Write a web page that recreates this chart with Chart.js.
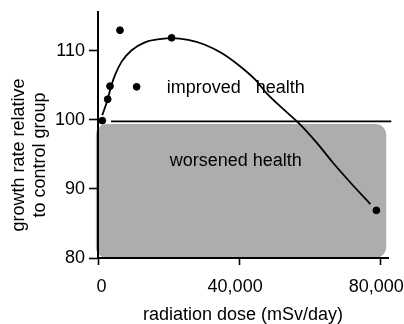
<!DOCTYPE html>
<html>
<head>
<meta charset="utf-8">
<script src="https://cdn.jsdelivr.net/npm/chart.js@4"></script>
<style>
  html, body { margin: 0; padding: 0; background: #ffffff; }
  #wrap { width: 404px; height: 324px; }
</style>
</head>
<body>
<div id="wrap"><canvas id="c" width="404" height="324"></canvas></div>
<script>
// Measured growth rate (% of control) at each dose rate (mSv/day)
const doseValues   = [1220, 2750, 3400, 6230, 10950, 20860, 78900];
const growthValues = [99.9, 103.0, 104.9, 113.0, 104.8, 111.9, 86.9];

// Fitted trend curve, sampled along its length
const fitDose   = [1220, 2750, 3680, 4810, 6710, 9540, 13300, 18030, 20860, 25560, 30290, 35020, 39720, 44440, 47760, 52460, 57180, 61910, 66610, 71340, 77200];
const fitGrowth = [100.7, 103.0, 104.8, 106.5, 108.45, 110.1, 111.25, 111.75, 111.85, 111.6, 110.9, 109.7, 108.0, 105.9, 103.9, 101.6, 99.4, 96.75, 93.8, 91.05, 87.8];

// Control level and the band of worsened health below it
const controlLine = [[3700, 99.8], [83140, 99.8]];
const worseBandX = [-600, 81700];
const worseBandY = [80, 99.4];

const xTicks = [0, 40000, 80000];
const yTicks = [80, 90, 100, 110];

const regionLabels = ['improved   health', 'worsened health'];
const regionLabelPos = [[39070, 103.95], [39070, 93.27]];

const FONT = "'Liberation Sans', Arial, sans-serif";
const yTitle = ['growth rate relative', 'to control group'];

function roundRect(ctx, x, y, w, h, r) {
  ctx.beginPath();
  ctx.moveTo(x + r, y);
  ctx.lineTo(x + w - r, y);
  ctx.arcTo(x + w, y, x + w, y + r, r);
  ctx.lineTo(x + w, y + h - r);
  ctx.arcTo(x + w, y + h, x + w - r, y + h, r);
  ctx.lineTo(x + r, y + h);
  ctx.arcTo(x, y + h, x, y + h - r, r);
  ctx.lineTo(x, y + r);
  ctx.arcTo(x, y, x + r, y, r);
  ctx.closePath();
}

const bandPlugin = {
  id: 'worseBand',
  beforeDraw(chart) {
    const {ctx, scales: {x, y}} = chart;
    const x0 = x.getPixelForValue(worseBandX[0]);
    const x1 = x.getPixelForValue(worseBandX[1]);
    const y0 = y.getPixelForValue(worseBandY[1]);
    const y1 = y.getPixelForValue(worseBandY[0]);
    ctx.save();
    ctx.fillStyle = '#adadad';
    roundRect(ctx, x0, y0, x1 - x0, y1 - y0, 11);
    ctx.fill();
    ctx.restore();
  },
  beforeDatasetsDraw(chart) {
    const {ctx, scales: {x, y}} = chart;
    ctx.save();
    ctx.fillStyle = '#000';
    ctx.font = '18px ' + FONT;
    ctx.textAlign = 'center';
    ctx.textBaseline = 'alphabetic';
    regionLabels.forEach((t, i) => {
      ctx.fillText(t, x.getPixelForValue(regionLabelPos[i][0]), y.getPixelForValue(regionLabelPos[i][1]));
    });
    ctx.restore();
  },
  afterDraw(chart) {
    // two-line rotated title for the value axis
    const {ctx, chartArea} = chart;
    const cy = (chartArea.top + chartArea.bottom) / 2 + 20;
    ctx.save();
    ctx.fillStyle = '#000';
    ctx.font = '18px ' + FONT;
    ctx.textAlign = 'center';
    ctx.textBaseline = 'middle';
    yTitle.forEach((t, i) => {
      ctx.save();
      ctx.translate(19 + i * 21, cy);
      ctx.rotate(-Math.PI / 2);
      ctx.fillText(t, 0, 0);
      ctx.restore();
    });
    ctx.restore();
  }
};

new Chart(document.getElementById('c'), {
  type: 'scatter',
  data: {
    datasets: [
      {
        label: 'measured',
        data: doseValues.map((d, i) => ({x: d, y: growthValues[i]})),
        backgroundColor: '#000',
        borderColor: '#000',
        pointRadius: 3.4,
        pointHoverRadius: 3.4,
        order: 0
      },
      {
        label: 'fit',
        data: fitDose.map((d, i) => ({x: d, y: fitGrowth[i]})),
        showLine: true,
        borderColor: '#000',
        borderWidth: 1.8,
        pointRadius: 0,
        cubicInterpolationMode: 'monotone',
        fill: false,
        order: 1
      },
      {
        label: 'control',
        data: controlLine.map(p => ({x: p[0], y: p[1]})),
        showLine: true,
        borderColor: '#000',
        borderWidth: 1.6,
        pointRadius: 0,
        clip: false,
        order: 2
      }
    ]
  },
  options: {
    responsive: false,
    animation: false,
    devicePixelRatio: 1,
    layout: { padding: { top: 12, right: 16, left: 0, bottom: 0 } },
    plugins: { legend: { display: false }, tooltip: { enabled: false } },
    scales: {
      x: {
        type: 'linear',
        position: 'bottom',
        min: 0,
        max: 82200,
        afterBuildTicks(scale) { scale.ticks = xTicks.map(v => ({value: v})); },
        afterFit(scale) { scale.height = 66; scale.paddingLeft = 0; scale.paddingRight = 0; },
        ticks: {
          font: { family: FONT, size: 18 },
          color: '#000',
          padding: 11,
          maxRotation: 0,
          labelOffset: -4,
          // the zero label sits just right of the axis corner
          callback: v => (v === 0 ? '   0' : v.toLocaleString('en-US'))
        },
        grid: { drawOnChartArea: false, drawTicks: true, tickLength: 7, tickColor: '#000', tickWidth: 1.6 },
        border: { display: true, color: '#000', width: 2 },
        title: {
          display: true,
          text: 'radiation dose (mSv/day)',
          color: '#000',
          font: { family: FONT, size: 18, lineHeight: 1 },
          padding: { top: 0, bottom: 0 }
        }
      },
      y: {
        type: 'linear',
        min: 80,
        max: 115.64,
        afterBuildTicks(scale) { scale.ticks = yTicks.map(v => ({value: v})); },
        afterFit(scale) { scale.width = 98; scale.paddingTop = 0; scale.paddingBottom = 0; },
        ticks: {
          font: { family: FONT, size: 18 },
          color: '#000',
          padding: 4
        },
        grid: { drawOnChartArea: false, drawTicks: true, tickLength: 9, tickColor: '#000', tickWidth: 1.6 },
        border: { display: true, color: '#000', width: 2 }
      }
    }
  },
  plugins: [bandPlugin]
});
</script>
</body>
</html>
